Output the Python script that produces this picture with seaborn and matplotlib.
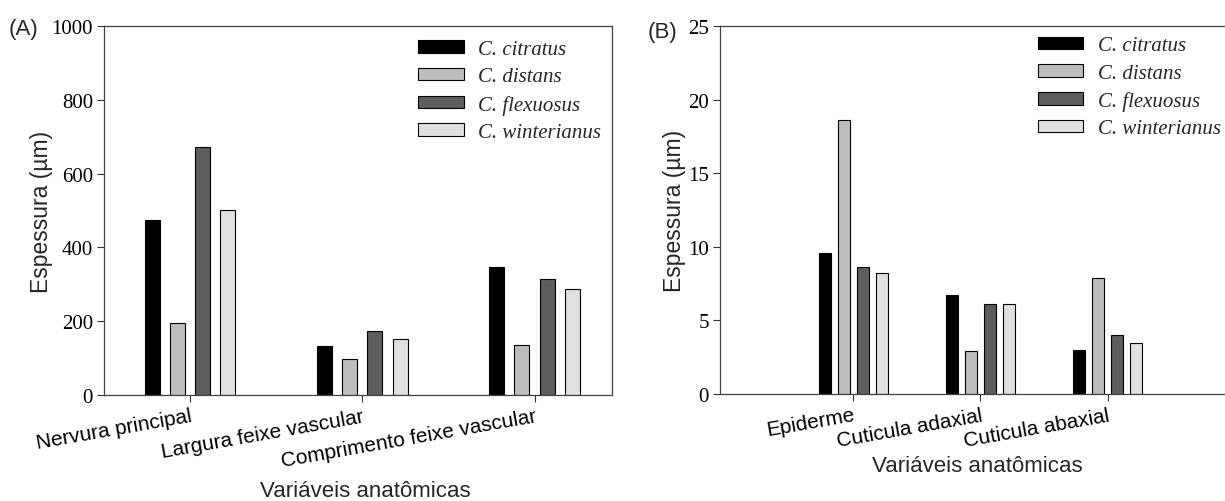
import matplotlib
matplotlib.use("Agg")
import matplotlib.pyplot as plt
import seaborn as sns
import pandas as pd

# ── Data ──────────────────────────────────────────────────────────────────────
SPECIES = ["C. citratus", "C. distans", "C. flexuosus", "C. winterianus"]
COLORS  = ["#000000", "#bdbdbd", "#5e5e5e", "#e0e0e0"]

VARS_A = ["Nervura principal", "Largura feixe vascular", "Comprimento feixe vascular"]
citratus_a    = [475, 132, 348]
distans_a     = [195, 97, 135]
flexuosus_a   = [672, 175, 315]
winterianus_a = [502, 153, 288]

VARS_B = ["Epiderme", "Cuticula adaxial", "Cuticula abaxial"]
citratus_b    = [9.6, 6.7, 3.0]
distans_b     = [18.6, 2.9, 7.9]
flexuosus_b   = [8.6, 6.1, 4.0]
winterianus_b = [8.2, 6.1, 3.5]

YTICKS_A = [0, 200, 400, 600, 800, 1000]
YTICKS_B = [0, 5, 10, 15, 20, 25]


def long_df(cats, series):
    rows = []
    for sp, vals in zip(SPECIES, series):
        for c, v in zip(cats, vals):
            rows.append({"var": c, "species": sp, "value": v})
    return pd.DataFrame(rows)


df_a = long_df(VARS_A, [citratus_a, distans_a, flexuosus_a, winterianus_a])
df_b = long_df(VARS_B, [citratus_b, distans_b, flexuosus_b, winterianus_b])

# ── Style ─────────────────────────────────────────────────────────────────────
sns.set_style("ticks")
plt.rcParams["font.family"] = ["Liberation Sans", "DejaVu Sans"]
SERIF = "Liberation Serif"

fig = plt.figure(figsize=(12.25, 5.02), dpi=100)
ax_a = fig.add_axes([0.0849, 0.211, 0.4147, 0.735])
# right panel runs past the figure edge, as in the original
ax_b = fig.add_axes([0.5878, 0.213, 0.42, 0.733])


def draw(ax, df, cats, yticks, width, gap, xlim, xlab_xy, ylab_x, leg_anchor,
         panel, pxy):
    sns.barplot(data=df, x="var", y="value", hue="species", order=cats,
                hue_order=SPECIES, palette=COLORS, width=width, gap=gap,
                edgecolor="black", linewidth=0.8, saturation=1, ax=ax)
    ax.set_ylim(yticks[0], yticks[-1])
    ax.set_xlim(*xlim)
    ax.set_yticks(yticks)
    ax.set_yticklabels([str(t) for t in yticks], fontfamily=SERIF, fontsize=15)
    ax.set_xticks(range(len(cats)))
    ax.set_xticklabels(cats, rotation=10, ha="right", rotation_mode="anchor",
                       fontsize=15)
    ax.tick_params(axis="both", direction="out", length=5, width=0.8,
                   colors="#333333", labelcolor="black", pad=3)
    for s in ax.spines.values():
        s.set_color("#444444")
        s.set_linewidth(0.9)
    ax.set_xlabel("Variáveis anatômicas", fontsize=16)
    ax.xaxis.set_label_coords(*xlab_xy)
    ax.set_ylabel("Espessura (µm)", fontsize=16.5)
    ax.yaxis.set_label_coords(ylab_x, 0.5)
    leg = ax.legend(loc="upper right", bbox_to_anchor=leg_anchor, frameon=False,
                    prop={"family": SERIF, "style": "italic", "size": 15},
                    handlelength=2.2, handleheight=0.55, labelspacing=0.4,
                    handletextpad=0.7, borderaxespad=0.0)
    for h in leg.legend_handles:
        h.set_edgecolor("black")
        h.set_linewidth(0.8)
    fig.text(pxy[0], pxy[1], panel, fontsize=16, va="center")


draw(ax_a, df_a, VARS_A, YTICKS_A, 0.585, 0.4, (-0.5, 2.45), (0.515, -0.23),
     -0.1, (0.995, 0.985), "(A)", (0.007, 0.942))
draw(ax_b, df_b, VARS_B, YTICKS_B, 0.6, 0.37, (-1.05, 3.0), (0.5, -0.165),
     -0.067, (0.99, 0.995), "(B)", (0.529, 0.936))

plt.savefig("out.png", dpi=100)
